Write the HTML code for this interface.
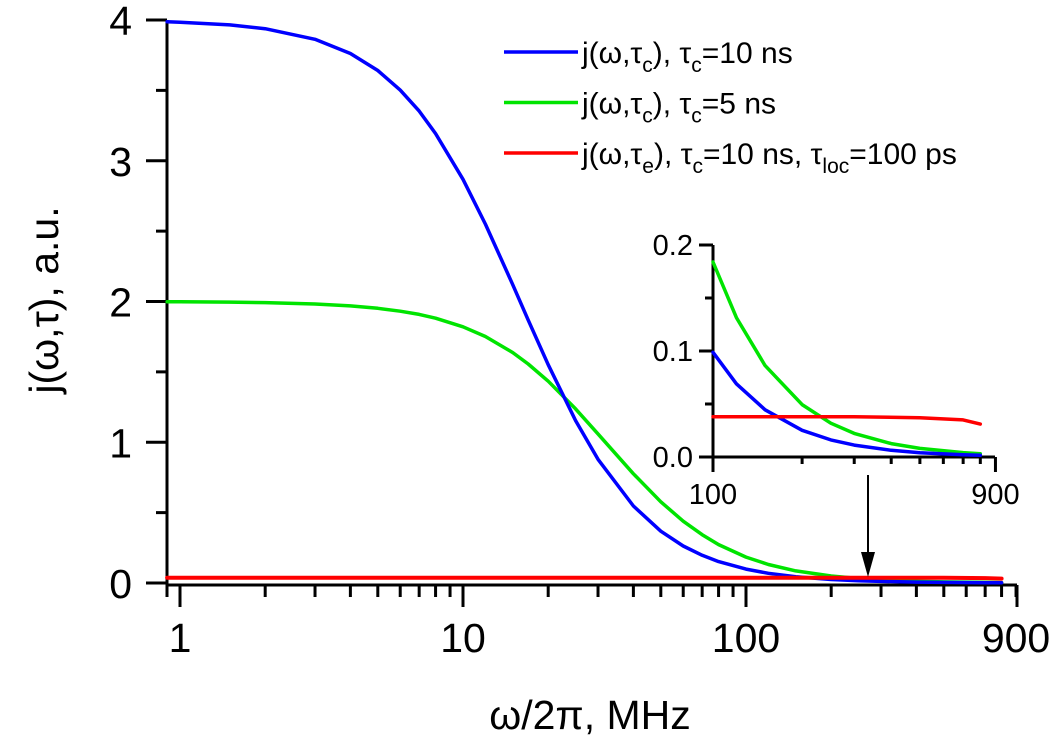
<!DOCTYPE html>
<html><head><meta charset="utf-8"><style>
body{margin:0;background:#fff}
svg text{font-family:"Liberation Sans",Arial,sans-serif;fill:#000}
</style></head><body>
<svg id="chart" width="1050" height="739" viewBox="0 0 1050 739">
<g id="main"></g>
<g id="inset"></g>
<g id="legend"></g>
</svg>
<script>
const freqs = [0.9,1,1.5,2,3,4,5,6,7,8,10,12,15,17,20,25,30,40,50,60,70,80,100,120,150,200,250,300,400,500,700,800];
const blueVals = [3.987,3.984,3.965,3.938,3.863,3.762,3.641,3.502,3.353,3.193,2.868,2.550,2.119,1.868,1.551,1.154,0.879,0.547,0.368,0.263,0.197,0.152,0.0988,0.0691,0.0445,0.0252,0.0161,0.0112,0.00632,0.00405,0.00207,0.00158];
const greenVals = [1.998,1.998,1.996,1.992,1.982,1.969,1.952,1.931,1.908,1.881,1.820,1.751,1.637,1.556,1.434,1.237,1.059,0.776,0.577,0.439,0.343,0.273,0.184,0.1315,0.0862,0.0494,0.0319,0.0223,0.0126,0.0081,0.00413,0.00316];
const redFreqs = [0.9,1,10,100,200,300,500,700,800];
const redVals = [0.038,0.038,0.038,0.038,0.038,0.038,0.037,0.035,0.031];
const xTickLabels = ["1","10","100","900"];
const yTickLabels = ["0","1","2","3","4"];
const insetYTickLabels = ["0.0","0.1","0.2"];
const legendLabels = [
 ['j(ω,τ','c','), τ','c','=10 ns'],
 ['j(ω,τ','c','), τ','c','=5 ns'],
 ['j(ω,τ','e','), τ','c','=10 ns, τ','loc','=100 ps']
];
const colors = ['#0000ff','#00e400','#ff0000'];

const NS='http://www.w3.org/2000/svg';
function mk(tag,attrs,parent){const e=document.createElementNS(NS,tag);for(const k in attrs)e.setAttribute(k,attrs[k]);parent.appendChild(e);return e;}

const mx = f => 180 + Math.log10(f)*283;
const my = v => 583 - v*140.75;
const main = document.getElementById('main');
let ax = mk('path',{d:`M167 20 V585 H1017`,stroke:'#000','stroke-width':3,fill:'none'},main);


for(let d=0; d<3; d++){
  for(let m=1;m<10;m++){
    const f=m*Math.pow(10,d); if(f>900)continue;
    const x=mx(f); const major=(m===1);
    const t=mk('line',{x1:x,y1:585,x2:x,y2:major?607:597,stroke:'#000','stroke-width':3},main);
    
    
  }
}
let t0=mk('line',{x1:167,y1:585,x2:167,y2:597,stroke:'#000','stroke-width':3},main);


let t9=mk('line',{x1:1017,y1:585,x2:1017,y2:607,stroke:'#000','stroke-width':3},main);


const xTickVals=[1,10,100,900];
xTickLabels.forEach((s,i)=>{
  const e=mk('text',{x:Math.min(mx(xTickVals[i]),1017),y:652,'font-size':41,'text-anchor':'middle'},main);e.textContent=s;
  
  
});
for(let v=0; v<=4; v+=0.5){
  const y=my(v); const major=Number.isInteger(v);
  const t=mk('line',{x1:major?146:156,y1:y,x2:167,y2:y,stroke:'#000','stroke-width':3},main);
  
  
}
yTickLabels.forEach((s,i)=>{
  const e=mk('text',{x:132,y:my(i)+15,'font-size':41,'text-anchor':'end'},main);e.textContent=s;
  
  
});
let xl=mk('text',{x:590,y:729,'font-size':41,'text-anchor':'middle'},main);xl.textContent='ω/2π, MHz';


let yl=mk('text',{x:0,y:0,'font-size':41,'text-anchor':'middle',transform:'translate(58,300) rotate(-90)'},main);yl.textContent='j(ω,τ), a.u.';



function line(g,xs,ys,fx,fy,c,name,w){
  const d=xs.map((f,i)=>(i?'L':'M')+fx(f).toFixed(1)+' '+fy(ys[i]).toFixed(1)).join(' ');
  const p=mk('path',{d:d,stroke:c,'stroke-width':w,fill:'none','stroke-linejoin':'round','stroke-linecap':'round'},g);
  
  
}
line(main,freqs,greenVals,mx,my,colors[1],'series-green-5ns',3.5);
line(main,freqs,blueVals,mx,my,colors[0],'series-blue-10ns',3.5);
line(main,redFreqs,redVals,mx,my,colors[2],'series-red-tloc',4);

let ar=mk('line',{x1:868,y1:475,x2:868,y2:555,stroke:'#000','stroke-width':2},main);


let ah=mk('path',{d:'M861 552 L875 552 L868 577 Z',fill:'#000'},main);



const ix = f => 713 + Math.log10(f/100)*296;
const iy = v => 457 - v*1060;
const inset=document.getElementById('inset');
let iax=mk('path',{d:`M713 245 V457 H995`,stroke:'#000','stroke-width':3,fill:'none'},inset);


for(let m=1;m<=9;m++){
  const x=ix(m*100); const major=(m===1||m===9);
  const t=mk('line',{x1:x,y1:457,x2:x,y2:major?472:464,stroke:'#000','stroke-width':3},inset);
  
  
}
for(let k=0;k<=4;k++){
  const v=k*0.05,y=iy(v);
  const t=mk('line',{x1:k%2?705:699,y1:y,x2:713,y2:y,stroke:'#000','stroke-width':3},inset);
  
  
}
insetYTickLabels.forEach((s,i)=>{
  const e=mk('text',{x:693,y:iy(i*0.1)+10,'font-size':29,'text-anchor':'end'},inset);e.textContent=s;
  
  
});
[['100',100],['900',900]].forEach(([s,f])=>{
  const e=mk('text',{x:ix(f),y:504,'font-size':29,'text-anchor':'middle'},inset);e.textContent=s;
  
  
});
const insetIdx=freqs.map((f,i)=>i).filter(i=>freqs[i]>=100);
const ifr=insetIdx.map(i=>freqs[i]);
line(inset,ifr,insetIdx.map(i=>greenVals[i]),ix,iy,colors[1],'inset-series-green',3.5);
line(inset,ifr,insetIdx.map(i=>blueVals[i]),ix,iy,colors[0],'inset-series-blue',3.5);
const rIdx=redFreqs.map((f,i)=>i).filter(i=>redFreqs[i]>=100);
line(inset,rIdx.map(i=>redFreqs[i]),rIdx.map(i=>redVals[i]),ix,iy,colors[2],'inset-series-red',3.5);

const lg=document.getElementById('legend');
legendLabels.forEach((parts,i)=>{
  const y=52+i*50.5;
  const l=mk('line',{x1:504,y1:y,x2:578,y2:y,stroke:colors[i],'stroke-width':3.5},lg);
  
  
  const tx=mk('text',{x:582,y:y+11,'font-size':30},lg);
  
  
  parts.forEach((p,j)=>{
    const ts=mk('tspan',{},tx);
    if(j%2===1){ts.setAttribute('font-size',21);ts.setAttribute('dy',9);}
    else if(j>0){ts.setAttribute('dy',-9);}
    ts.textContent=p;
  });
});
</script>
</body></html>
